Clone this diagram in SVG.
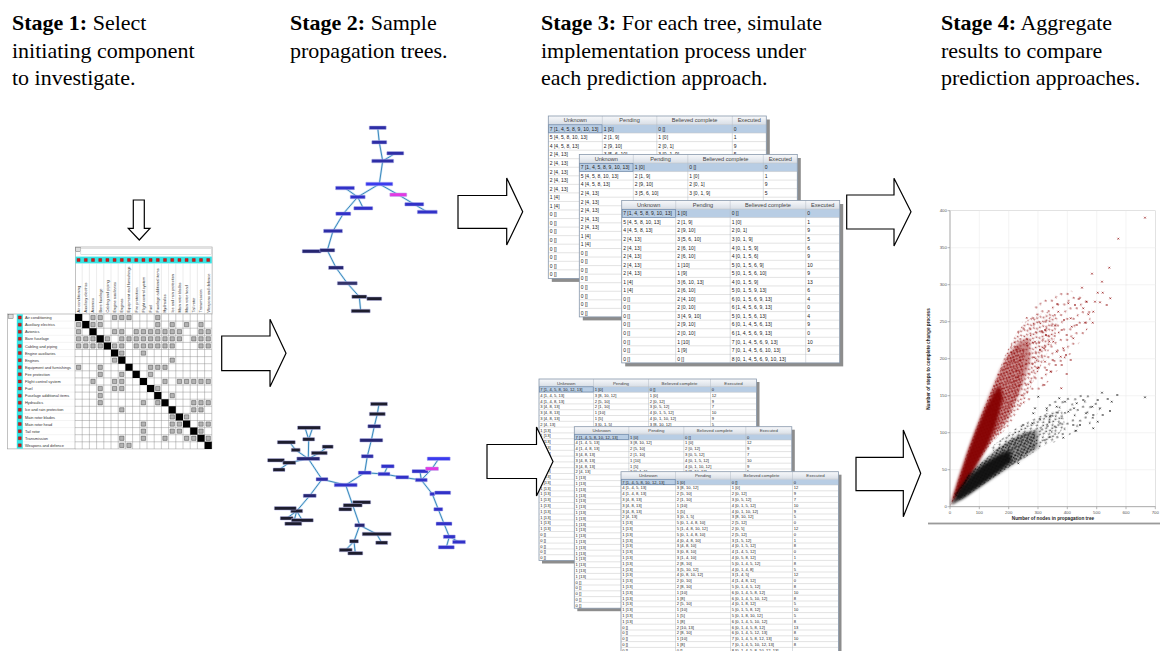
<svg xmlns="http://www.w3.org/2000/svg" width="1163" height="651" viewBox="0 0 1163 651">
<style>
.hd{font-family:"Liberation Serif","Times New Roman",serif;font-size:22px;fill:#000}
.b{font-weight:bold}
.arr{fill:#fff;stroke:#000;stroke-width:1.2;stroke-linejoin:miter}
.lab{font-family:"Liberation Sans",Arial,sans-serif;font-size:3.9px;fill:#333}
.gl{fill:none;stroke:#c6c6c6;stroke-width:.5}
.gl2{fill:none;stroke:#b5bcc6;stroke-width:.5}
.th{font-family:"Liberation Sans",Arial,sans-serif;font-size:5.6px;fill:#444;text-anchor:middle}
.tr{font-family:"Liberation Sans",Arial,sans-serif;font-size:5px;fill:#222}
.th2{font-family:"Liberation Sans",Arial,sans-serif;font-size:4.4px;fill:#444;text-anchor:middle}
.tr2{font-family:"Liberation Sans",Arial,sans-serif;font-size:4.1px;fill:#222}
.edge{fill:none;stroke:#3a88bd;stroke-width:1;stroke-linecap:round}
.edgeg{fill:none;stroke:#a9d2ec;stroke-width:2.2;stroke-opacity:.6;stroke-linecap:round}
.nd{stroke:#b9b9ec;stroke-width:.5}
.nb{fill:#2e2ea6}.bl{fill:#3131c8}.br{fill:#3b3bef}.pk{fill:#e23ae2}.nv{fill:#262670}.dk{fill:#1d1d2e}.md{fill:#34346a}
.tk{font-family:"Liberation Sans",Arial,sans-serif;font-size:4.3px;fill:#555}
.at{font-family:"Liberation Sans",Arial,sans-serif;font-size:4.7px;font-weight:bold;fill:#222;text-anchor:middle}
</style>
<defs>
<filter id="soft" x="-20%" y="-20%" width="140%" height="140%"><feGaussianBlur stdDeviation="1.6"/></filter>
<linearGradient id="hg" x1="0" y1="0" x2="0" y2="1"><stop offset="0" stop-color="#f8f9fb"/><stop offset="1" stop-color="#d8dee6"/></linearGradient>
<pattern id="rd" width="4.2" height="4" patternUnits="userSpaceOnUse" patternTransform="rotate(23)"><path d="M.2 .2l1.6 1.6m0-1.6l-1.6 1.6M2.3 1.9l1.6 1.6m0-1.6l-1.6 1.6" stroke="#8b0000" stroke-width=".6" fill="none"/></pattern>
<pattern id="rm" width="7" height="6.5" patternUnits="userSpaceOnUse" patternTransform="rotate(31)"><path d="M.4 .5l1.6 1.6m0-1.6l-1.6 1.6M4.3 1.4l1.6 1.6m0-1.6l-1.6 1.6M2 4.2l1.6 1.6m0-1.6l-1.6 1.6" stroke="#8b0000" stroke-width=".6" fill="none"/></pattern>
<pattern id="rs" width="13" height="11" patternUnits="userSpaceOnUse" patternTransform="rotate(17)"><path d="M1 1.2l1.6 1.6m0-1.6l-1.6 1.6M8 3.1l1.6 1.6m0-1.6l-1.6 1.6M3.9 7.6l1.6 1.6m0-1.6l-1.6 1.6" stroke="#8b0000" stroke-width=".6" fill="none"/></pattern>
<pattern id="kd" width="4.2" height="4" patternUnits="userSpaceOnUse" patternTransform="rotate(-19)"><path d="M.2 .2l1.6 1.6m0-1.6l-1.6 1.6M2.3 1.9l1.6 1.6m0-1.6l-1.6 1.6" stroke="#000" stroke-width=".6" fill="none"/></pattern>
<pattern id="km" width="7" height="6.5" patternUnits="userSpaceOnUse" patternTransform="rotate(-27)"><path d="M.4 .5l1.6 1.6m0-1.6l-1.6 1.6M4.3 1.4l1.6 1.6m0-1.6l-1.6 1.6M2 4.2l1.6 1.6m0-1.6l-1.6 1.6" stroke="#000" stroke-width=".6" fill="none"/></pattern>
<pattern id="ks" width="13" height="11" patternUnits="userSpaceOnUse" patternTransform="rotate(-13)"><path d="M1 1.2l1.6 1.6m0-1.6l-1.6 1.6M8 3.1l1.6 1.6m0-1.6l-1.6 1.6M3.9 7.6l1.6 1.6m0-1.6l-1.6 1.6" stroke="#000" stroke-width=".6" fill="none"/></pattern>
<marker id="mr" markerUnits="userSpaceOnUse" markerWidth="4" markerHeight="4" refX="2" refY="2" overflow="visible"><path d="M1.1 1.1L2.9 2.9M2.9 1.1L1.1 2.9" stroke="#8b0000" stroke-width=".6" fill="none"/></marker>
<marker id="mk" markerUnits="userSpaceOnUse" markerWidth="4" markerHeight="4" refX="2" refY="2" overflow="visible"><path d="M1.1 1.1L2.9 2.9M2.9 1.1L1.1 2.9" stroke="#000" stroke-width=".6" fill="none"/></marker>

<g id="tblA">
<rect x="3.5" y="3.5" width="218" height="162.4" fill="#8d8d8d"/>
<rect width="218" height="162.4" fill="#fff"/>
<rect width="218" height="8.5" fill="url(#hg)"/>
<rect y="8.5" width="218" height="8.55" fill="#b8cde4"/>
<path class="gl" d="M0 8.5h218m-218 8.55h218m-218 8.55h218m-218 8.55h218m-218 8.55h218m-218 8.55h218m-218 8.55h218m-218 8.55h218m-218 8.55h218m-218 8.55h218m-218 8.55h218m-218 8.55h218m-218 8.55h218m-218 8.55h218m-218 8.55h218m-218 8.55h218m-218 8.55h218m-218 8.55h218"/>
<path class="gl2" d="M54 0v162.4M108.5 0v162.4M184 0v162.4"/>
<rect x=".4" y="8.8" width="53.3" height="8" fill="none" stroke="#5f7fa6" stroke-width=".6"/>
<rect width="218" height="162.4" fill="none" stroke="#8797ab" stroke-width=".8"/>
<text class="th" y="6.4"><tspan x="27">Unknown</tspan><tspan x="81.25">Pending</tspan><tspan x="146.25">Believed complete</tspan><tspan x="201">Executed</tspan></text>
<text class="tr" y="14.8"><tspan x="1.5">7 [1, 4, 5, 8, 9, 10, 13]</tspan><tspan x="1.5" dy="8.55">5 [4, 5, 8, 10, 13]</tspan><tspan x="1.5" dy="8.55">4 [4, 5, 8, 13]</tspan><tspan x="1.5" dy="8.55">2 [4, 13]</tspan><tspan x="1.5" dy="8.55">2 [4, 13]</tspan><tspan x="1.5" dy="8.55">2 [4, 13]</tspan><tspan x="1.5" dy="8.55">2 [4, 13]</tspan><tspan x="1.5" dy="8.55">2 [4, 13]</tspan><tspan x="1.5" dy="8.55">1 [4]</tspan><tspan x="1.5" dy="8.55">1 [4]</tspan><tspan x="1.5" dy="8.55">0 []</tspan><tspan x="1.5" dy="8.55">0 []</tspan><tspan x="1.5" dy="8.55">0 []</tspan><tspan x="1.5" dy="8.55">0 []</tspan><tspan x="1.5" dy="8.55">0 []</tspan><tspan x="1.5" dy="8.55">0 []</tspan><tspan x="1.5" dy="8.55">0 []</tspan><tspan x="1.5" dy="8.55">0 []</tspan></text>
<text class="tr" y="14.8"><tspan x="55.5">1 [0]</tspan><tspan x="55.5" dy="8.55">2 [1, 9]</tspan><tspan x="55.5" dy="8.55">2 [9, 10]</tspan><tspan x="55.5" dy="8.55">3 [5, 6, 10]</tspan><tspan x="55.5" dy="8.55">2 [6, 10]</tspan><tspan x="55.5" dy="8.55">2 [6, 10]</tspan><tspan x="55.5" dy="8.55">1 [10]</tspan><tspan x="55.5" dy="8.55">1 [9]</tspan><tspan x="55.5" dy="8.55">3 [6, 10, 13]</tspan><tspan x="55.5" dy="8.55">2 [6, 10]</tspan><tspan x="55.5" dy="8.55">2 [4, 10]</tspan><tspan x="55.5" dy="8.55">2 [0, 10]</tspan><tspan x="55.5" dy="8.55">3 [4, 9, 10]</tspan><tspan x="55.5" dy="8.55">2 [9, 10]</tspan><tspan x="55.5" dy="8.55">2 [0, 10]</tspan><tspan x="55.5" dy="8.55">1 [10]</tspan><tspan x="55.5" dy="8.55">1 [9]</tspan><tspan x="55.5" dy="8.55">0 []</tspan></text>
<text class="tr" y="14.8"><tspan x="110">0 []</tspan><tspan x="110" dy="8.55">1 [0]</tspan><tspan x="110" dy="8.55">2 [0, 1]</tspan><tspan x="110" dy="8.55">3 [0, 1, 9]</tspan><tspan x="110" dy="8.55">4 [0, 1, 5, 9]</tspan><tspan x="110" dy="8.55">4 [0, 1, 5, 6]</tspan><tspan x="110" dy="8.55">5 [0, 1, 5, 6, 9]</tspan><tspan x="110" dy="8.55">5 [0, 1, 5, 6, 10]</tspan><tspan x="110" dy="8.55">4 [0, 1, 5, 9]</tspan><tspan x="110" dy="8.55">5 [0, 1, 5, 9, 13]</tspan><tspan x="110" dy="8.55">6 [0, 1, 5, 6, 9, 13]</tspan><tspan x="110" dy="8.55">6 [1, 4, 5, 6, 9, 13]</tspan><tspan x="110" dy="8.55">5 [0, 1, 5, 6, 13]</tspan><tspan x="110" dy="8.55">6 [0, 1, 4, 5, 6, 13]</tspan><tspan x="110" dy="8.55">6 [1, 4, 5, 6, 9, 13]</tspan><tspan x="110" dy="8.55">7 [0, 1, 4, 5, 6, 9, 13]</tspan><tspan x="110" dy="8.55">7 [0, 1, 4, 5, 6, 10, 13]</tspan><tspan x="110" dy="8.55">8 [0, 1, 4, 5, 6, 9, 10, 13]</tspan></text>
<text class="tr" y="14.8"><tspan x="185.5">0</tspan><tspan x="185.5" dy="8.55">1</tspan><tspan x="185.5" dy="8.55">9</tspan><tspan x="185.5" dy="8.55">5</tspan><tspan x="185.5" dy="8.55">6</tspan><tspan x="185.5" dy="8.55">9</tspan><tspan x="185.5" dy="8.55">10</tspan><tspan x="185.5" dy="8.55">9</tspan><tspan x="185.5" dy="8.55">13</tspan><tspan x="185.5" dy="8.55">6</tspan><tspan x="185.5" dy="8.55">4</tspan><tspan x="185.5" dy="8.55">0</tspan><tspan x="185.5" dy="8.55">4</tspan><tspan x="185.5" dy="8.55">9</tspan><tspan x="185.5" dy="8.55">0</tspan><tspan x="185.5" dy="8.55">10</tspan><tspan x="185.5" dy="8.55">9</tspan></text>
</g>

<g id="tblB">
<rect x="3" y="3" width="217.5" height="181.5" fill="#8d8d8d"/>
<rect width="217.5" height="181.5" fill="#fff"/>
<rect width="217.5" height="7.5" fill="url(#hg)"/>
<rect y="7.5" width="217.5" height="5.8" fill="#b8cde4"/>
<path class="gl" d="M0 7.5h217.5m-217.5 5.8h217.5m-217.5 5.8h217.5m-217.5 5.8h217.5m-217.5 5.8h217.5m-217.5 5.8h217.5m-217.5 5.8h217.5m-217.5 5.8h217.5m-217.5 5.8h217.5m-217.5 5.8h217.5m-217.5 5.8h217.5m-217.5 5.8h217.5m-217.5 5.8h217.5m-217.5 5.8h217.5m-217.5 5.8h217.5m-217.5 5.8h217.5m-217.5 5.8h217.5m-217.5 5.8h217.5m-217.5 5.8h217.5m-217.5 5.8h217.5m-217.5 5.8h217.5m-217.5 5.8h217.5m-217.5 5.8h217.5m-217.5 5.8h217.5m-217.5 5.8h217.5m-217.5 5.8h217.5m-217.5 5.8h217.5m-217.5 5.8h217.5m-217.5 5.8h217.5m-217.5 5.8h217.5"/>
<path class="gl2" d="M54.5 0v181.5M109.5 0v181.5M171.5 0v181.5"/>
<rect x=".4" y="7.8" width="53.8" height="5.2" fill="none" stroke="#5f7fa6" stroke-width=".6"/>
<rect width="217.5" height="181.5" fill="none" stroke="#8797ab" stroke-width=".8"/>
<text class="th2" y="5.6"><tspan x="27.25">Unknown</tspan><tspan x="82">Pending</tspan><tspan x="140.5">Believed complete</tspan><tspan x="194.5">Executed</tspan></text>
<text class="tr2" y="11.9"><tspan x="1.3">7 [1, 4, 5, 8, 10, 12, 13]</tspan><tspan x="1.3" dy="5.8">4 [1, 4, 5, 13]</tspan><tspan x="1.3" dy="5.8">4 [1, 4, 8, 13]</tspan><tspan x="1.3" dy="5.8">3 [4, 8, 13]</tspan><tspan x="1.3" dy="5.8">3 [4, 8, 13]</tspan><tspan x="1.3" dy="5.8">3 [4, 8, 13]</tspan><tspan x="1.3" dy="5.8">2 [4, 13]</tspan><tspan x="1.3" dy="5.8">1 [13]</tspan><tspan x="1.3" dy="5.8">1 [13]</tspan><tspan x="1.3" dy="5.8">1 [13]</tspan><tspan x="1.3" dy="5.8">1 [13]</tspan><tspan x="1.3" dy="5.8">1 [13]</tspan><tspan x="1.3" dy="5.8">1 [13]</tspan><tspan x="1.3" dy="5.8">1 [13]</tspan><tspan x="1.3" dy="5.8">1 [13]</tspan><tspan x="1.3" dy="5.8">1 [13]</tspan><tspan x="1.3" dy="5.8">1 [13]</tspan><tspan x="1.3" dy="5.8">1 [13]</tspan><tspan x="1.3" dy="5.8">1 [13]</tspan><tspan x="1.3" dy="5.8">1 [13]</tspan><tspan x="1.3" dy="5.8">1 [13]</tspan><tspan x="1.3" dy="5.8">1 [13]</tspan><tspan x="1.3" dy="5.8">1 [13]</tspan><tspan x="1.3" dy="5.8">1 [13]</tspan><tspan x="1.3" dy="5.8">1 [13]</tspan><tspan x="1.3" dy="5.8">0 []</tspan><tspan x="1.3" dy="5.8">0 []</tspan><tspan x="1.3" dy="5.8">0 []</tspan><tspan x="1.3" dy="5.8">0 []</tspan><tspan x="1.3" dy="5.8">0 []</tspan></text>
<text class="tr2" y="11.9"><tspan x="55.8">1 [0]</tspan><tspan x="55.8" dy="5.8">3 [8, 10, 12]</tspan><tspan x="55.8" dy="5.8">2 [5, 10]</tspan><tspan x="55.8" dy="5.8">2 [1, 10]</tspan><tspan x="55.8" dy="5.8">1 [10]</tspan><tspan x="55.8" dy="5.8">1 [5]</tspan><tspan x="55.8" dy="5.8">3 [0, 1, 5]</tspan><tspan x="55.8" dy="5.8">5 [0, 1, 4, 8, 10]</tspan><tspan x="55.8" dy="5.8">5 [1, 4, 8, 10, 12]</tspan><tspan x="55.8" dy="5.8">5 [0, 1, 4, 8, 10]</tspan><tspan x="55.8" dy="5.8">4 [0, 4, 8, 10]</tspan><tspan x="55.8" dy="5.8">3 [4, 8, 10]</tspan><tspan x="55.8" dy="5.8">3 [0, 8, 10]</tspan><tspan x="55.8" dy="5.8">3 [1, 4, 10]</tspan><tspan x="55.8" dy="5.8">2 [8, 10]</tspan><tspan x="55.8" dy="5.8">3 [5, 10, 12]</tspan><tspan x="55.8" dy="5.8">4 [0, 8, 10, 12]</tspan><tspan x="55.8" dy="5.8">2 [0, 10]</tspan><tspan x="55.8" dy="5.8">2 [8, 10]</tspan><tspan x="55.8" dy="5.8">1 [10]</tspan><tspan x="55.8" dy="5.8">1 [8]</tspan><tspan x="55.8" dy="5.8">2 [5, 10]</tspan><tspan x="55.8" dy="5.8">1 [10]</tspan><tspan x="55.8" dy="5.8">1 [5]</tspan><tspan x="55.8" dy="5.8">1 [8]</tspan><tspan x="55.8" dy="5.8">2 [10, 13]</tspan><tspan x="55.8" dy="5.8">2 [8, 10]</tspan><tspan x="55.8" dy="5.8">1 [10]</tspan><tspan x="55.8" dy="5.8">1 [8]</tspan><tspan x="55.8" dy="5.8">0 []</tspan></text>
<text class="tr2" y="11.9"><tspan x="110.8">0 []</tspan><tspan x="110.8" dy="5.8">1 [0]</tspan><tspan x="110.8" dy="5.8">2 [0, 12]</tspan><tspan x="110.8" dy="5.8">3 [0, 5, 12]</tspan><tspan x="110.8" dy="5.8">4 [0, 1, 5, 12]</tspan><tspan x="110.8" dy="5.8">4 [0, 1, 10, 12]</tspan><tspan x="110.8" dy="5.8">3 [8, 10, 12]</tspan><tspan x="110.8" dy="5.8">2 [5, 12]</tspan><tspan x="110.8" dy="5.8">2 [0, 5]</tspan><tspan x="110.8" dy="5.8">2 [5, 12]</tspan><tspan x="110.8" dy="5.8">3 [1, 5, 12]</tspan><tspan x="110.8" dy="5.8">4 [0, 1, 5, 12]</tspan><tspan x="110.8" dy="5.8">4 [1, 4, 5, 12]</tspan><tspan x="110.8" dy="5.8">4 [0, 5, 8, 12]</tspan><tspan x="110.8" dy="5.8">5 [0, 1, 4, 5, 12]</tspan><tspan x="110.8" dy="5.8">4 [0, 1, 4, 8]</tspan><tspan x="110.8" dy="5.8">3 [1, 4, 5]</tspan><tspan x="110.8" dy="5.8">4 [1, 4, 8, 12]</tspan><tspan x="110.8" dy="5.8">5 [0, 1, 4, 5, 12]</tspan><tspan x="110.8" dy="5.8">6 [0, 1, 4, 5, 8, 12]</tspan><tspan x="110.8" dy="5.8">6 [0, 1, 4, 5, 10, 12]</tspan><tspan x="110.8" dy="5.8">4 [0, 1, 8, 12]</tspan><tspan x="110.8" dy="5.8">5 [0, 1, 5, 8, 12]</tspan><tspan x="110.8" dy="5.8">5 [0, 1, 8, 10, 12]</tspan><tspan x="110.8" dy="5.8">6 [0, 1, 4, 5, 10, 12]</tspan><tspan x="110.8" dy="5.8">6 [0, 1, 4, 5, 8, 12]</tspan><tspan x="110.8" dy="5.8">6 [0, 1, 4, 5, 12, 13]</tspan><tspan x="110.8" dy="5.8">7 [0, 1, 4, 5, 8, 12, 13]</tspan><tspan x="110.8" dy="5.8">7 [0, 1, 4, 5, 10, 12, 13]</tspan><tspan x="110.8" dy="5.8">8 [0, 1, 4, 5, 8, 10, 12, 13]</tspan></text>
<text class="tr2" y="11.9"><tspan x="172.8">0</tspan><tspan x="172.8" dy="5.8">12</tspan><tspan x="172.8" dy="5.8">9</tspan><tspan x="172.8" dy="5.8">7</tspan><tspan x="172.8" dy="5.8">10</tspan><tspan x="172.8" dy="5.8">9</tspan><tspan x="172.8" dy="5.8">5</tspan><tspan x="172.8" dy="5.8">0</tspan><tspan x="172.8" dy="5.8">12</tspan><tspan x="172.8" dy="5.8">0</tspan><tspan x="172.8" dy="5.8">1</tspan><tspan x="172.8" dy="5.8">8</tspan><tspan x="172.8" dy="5.8">0</tspan><tspan x="172.8" dy="5.8">1</tspan><tspan x="172.8" dy="5.8">8</tspan><tspan x="172.8" dy="5.8">5</tspan><tspan x="172.8" dy="5.8">12</tspan><tspan x="172.8" dy="5.8">0</tspan><tspan x="172.8" dy="5.8">8</tspan><tspan x="172.8" dy="5.8">10</tspan><tspan x="172.8" dy="5.8">8</tspan><tspan x="172.8" dy="5.8">5</tspan><tspan x="172.8" dy="5.8">10</tspan><tspan x="172.8" dy="5.8">5</tspan><tspan x="172.8" dy="5.8">8</tspan><tspan x="172.8" dy="5.8">13</tspan><tspan x="172.8" dy="5.8">8</tspan><tspan x="172.8" dy="5.8">10</tspan><tspan x="172.8" dy="5.8">8</tspan></text>
</g>
</defs>

<rect width="1163" height="651" fill="#fff"/>

<g id="headers" class="hd">
<text x="12" y="30"><tspan class="b">Stage 1:</tspan> Select</text>
<text x="12" y="57.5">initiating component</text>
<text x="12" y="85">to investigate.</text>
<text x="290" y="30"><tspan class="b">Stage 2:</tspan> Sample</text>
<text x="290" y="57.5">propagation trees.</text>
<text x="541" y="30"><tspan class="b">Stage 3:</tspan> For each tree, simulate</text>
<text x="541" y="57.5">implementation process under</text>
<text x="541" y="85">each prediction approach.</text>
<text x="941" y="30"><tspan class="b">Stage 4:</tspan> Aggregate</text>
<text x="941" y="57.5">results to compare</text>
<text x="941" y="85">prediction approaches.</text>
</g>

<g id="dsm">
<rect x="75.3" y="247" width="136.8" height="67" fill="#fff" stroke="#9a9a9a" stroke-width=".6"/>
<rect x="75.8" y="247.6" width="4.6" height="4" fill="#ddd" stroke="#555" stroke-width=".4"/>
<rect x="80.8" y="248.4" width="130.8" height="6.2" fill="#fff" stroke="#c4c4c4" stroke-width=".5"/>
<rect x="75.5" y="256.6" width="136.3" height="6.8" fill="#38e4e4"/>
<path fill="#e01515" stroke="#7a0000" stroke-width=".3" d="M77.1 258.5h3v3h-3zm7.2 0h3v3h-3zm7.2 0h3v3h-3zm7.2 0h3v3h-3zm7.2 0h3v3h-3zm7.2 0h3v3h-3zm7.2 0h3v3h-3zm7.2 0h3v3h-3zm7.2 0h3v3h-3zm7.2 0h3v3h-3zm7.2 0h3v3h-3zm7.2 0h3v3h-3zm7.2 0h3v3h-3zm7.2 0h3v3h-3zm7.2 0h3v3h-3zm7.2 0h3v3h-3zm7.2 0h3v3h-3zm7.2 0h3v3h-3zm7.2 0h3v3h-3z"/>
<path fill="none" stroke="#d0d0d0" stroke-width=".4" d="M82.2 263.4V314M89.4 263.4V314M96.6 263.4V314M103.8 263.4V314M111 263.4V314M118.2 263.4V314M125.4 263.4V314M132.6 263.4V314M139.8 263.4V314M147 263.4V314M154.2 263.4V314M161.4 263.4V314M168.6 263.4V314M175.8 263.4V314M183 263.4V314M190.2 263.4V314M197.4 263.4V314M204.6 263.4V314"/>
<g class="lab" transform="rotate(-90)">
<text x="-312.5" y="80">Air conditioning</text>
<text x="-312.5" y="87.2">Auxiliary electrics</text>
<text x="-312.5" y="94.4">Avionics</text>
<text x="-312.5" y="101.6">Bare fuselage</text>
<text x="-312.5" y="108.8">Cabling and piping</text>
<text x="-312.5" y="116">Engine auxiliaries</text>
<text x="-312.5" y="123.2">Engines</text>
<text x="-312.5" y="130.4">Equipment and furnishings</text>
<text x="-312.5" y="137.6">Fire protection</text>
<text x="-312.5" y="144.8">Flight control system</text>
<text x="-312.5" y="152">Fuel</text>
<text x="-312.5" y="159.2">Fuselage additional items</text>
<text x="-312.5" y="166.4">Hydraulics</text>
<text x="-312.5" y="173.6">Ice and rain protection</text>
<text x="-312.5" y="180.8">Main rotor blades</text>
<text x="-312.5" y="188">Main rotor head</text>
<text x="-312.5" y="195.2">Tail rotor</text>
<text x="-312.5" y="202.4">Transmission</text>
<text x="-312.5" y="209.6">Weapons and defence</text>
</g>
<rect x="7.5" y="314" width="67.8" height="134.9" fill="#fff" stroke="#9a9a9a" stroke-width=".6"/>
<rect x="8.5" y="314.6" width="4.6" height="4" fill="#ddd" stroke="#555" stroke-width=".4"/>
<rect x="16.8" y="314.3" width="6" height="134.4" fill="#38e4e4"/>
<path fill="#e01515" stroke="#7a0000" stroke-width=".3" d="M18.3 316.05h3v3h-3zm0 7.1h3v3h-3zm0 7.1h3v3h-3zm0 7.1h3v3h-3zm0 7.1h3v3h-3zm0 7.1h3v3h-3zm0 7.1h3v3h-3zm0 7.1h3v3h-3zm0 7.1h3v3h-3zm0 7.1h3v3h-3zm0 7.1h3v3h-3zm0 7.1h3v3h-3zm0 7.1h3v3h-3zm0 7.1h3v3h-3zm0 7.1h3v3h-3zm0 7.1h3v3h-3zm0 7.1h3v3h-3zm0 7.1h3v3h-3zm0 7.1h3v3h-3z"/>
<path fill="none" stroke="#e2e2e2" stroke-width=".4" d="M23 321.1H75M23 328.2H75M23 335.3H75M23 342.4H75M23 349.5H75M23 356.6H75M23 363.7H75M23 370.8H75M23 377.9H75M23 385H75M23 392.1H75M23 399.2H75M23 406.3H75M23 413.4H75M23 420.5H75M23 427.6H75M23 434.7H75M23 441.8H75"/>
<text class="lab" y="319.1"><tspan x="25">Air conditioning</tspan><tspan x="25" dy="7.1">Auxiliary electrics</tspan><tspan x="25" dy="7.1">Avionics</tspan><tspan x="25" dy="7.1">Bare fuselage</tspan><tspan x="25" dy="7.1">Cabling and piping</tspan><tspan x="25" dy="7.1">Engine auxiliaries</tspan><tspan x="25" dy="7.1">Engines</tspan><tspan x="25" dy="7.1">Equipment and furnishings</tspan><tspan x="25" dy="7.1">Fire protection</tspan><tspan x="25" dy="7.1">Flight control system</tspan><tspan x="25" dy="7.1">Fuel</tspan><tspan x="25" dy="7.1">Fuselage additional items</tspan><tspan x="25" dy="7.1">Hydraulics</tspan><tspan x="25" dy="7.1">Ice and rain protection</tspan><tspan x="25" dy="7.1">Main rotor blades</tspan><tspan x="25" dy="7.1">Main rotor head</tspan><tspan x="25" dy="7.1">Tail rotor</tspan><tspan x="25" dy="7.1">Transmission</tspan><tspan x="25" dy="7.1">Weapons and defence</tspan></text>
<g transform="translate(75 314) scale(7.2 7.1)">
<rect width="19" height="19" fill="#fff"/>
<path fill="none" stroke="#8a8a8a" stroke-width=".45" vector-effect="non-scaling-stroke" d="M0 0V19M1 0V19M2 0V19M3 0V19M4 0V19M5 0V19M6 0V19M7 0V19M8 0V19M9 0V19M10 0V19M11 0V19M12 0V19M13 0V19M14 0V19M15 0V19M16 0V19M17 0V19M18 0V19M19 0V19M0 0H19M0 1H19M0 2H19M0 3H19M0 4H19M0 5H19M0 6H19M0 7H19M0 8H19M0 9H19M0 10H19M0 11H19M0 12H19M0 13H19M0 14H19M0 15H19M0 16H19M0 17H19M0 18H19M0 19H19"/>
<path fill="#000" d="M0 0h1v1h-1zM1 1h1v1h-1zM2 2h1v1h-1zM3 3h1v1h-1zM4 4h1v1h-1zM5 5h1v1h-1zM6 6h1v1h-1zM7 7h1v1h-1zM8 8h1v1h-1zM9 9h1v1h-1zM10 10h1v1h-1zM11 11h1v1h-1zM12 12h1v1h-1zM13 13h1v1h-1zM14 14h1v1h-1zM15 15h1v1h-1zM16 16h1v1h-1zM17 17h1v1h-1zM18 18h1v1h-1z"/>
<path fill="#b3b3b3" stroke="#4a4a4a" stroke-width=".5" vector-effect="non-scaling-stroke" d="M2.2 .2h.6v.6h-.6zM3.2 .2h.6v.6h-.6zM5.2 .2h.6v.6h-.6zM6.2 .2h.6v.6h-.6zM7.2 .2h.6v.6h-.6zM11.2 .2h.6v.6h-.6z
M0.2 1.2h.6v.6h-.6zM2.2 1.2h.6v.6h-.6zM3.2 1.2h.6v.6h-.6zM11.2 1.2h.6v.6h-.6zM13.2 1.2h.6v.6h-.6zM15.2 1.2h.6v.6h-.6zM17.2 1.2h.6v.6h-.6z
M0.2 2.2h.6v.6h-.6zM5.2 2.2h.6v.6h-.6zM6.2 2.2h.6v.6h-.6zM8.2 2.2h.6v.6h-.6zM9.2 2.2h.6v.6h-.6zM10.2 2.2h.6v.6h-.6zM11.2 2.2h.6v.6h-.6zM12.2 2.2h.6v.6h-.6zM13.2 2.2h.6v.6h-.6zM14.2 2.2h.6v.6h-.6zM17.2 2.2h.6v.6h-.6zM18.2 2.2h.6v.6h-.6z
M0.2 3.2h.6v.6h-.6zM1.2 3.2h.6v.6h-.6zM2.2 3.2h.6v.6h-.6zM4.2 3.2h.6v.6h-.6zM6.2 3.2h.6v.6h-.6zM7.2 3.2h.6v.6h-.6zM8.2 3.2h.6v.6h-.6zM9.2 3.2h.6v.6h-.6zM10.2 3.2h.6v.6h-.6zM11.2 3.2h.6v.6h-.6zM12.2 3.2h.6v.6h-.6zM13.2 3.2h.6v.6h-.6zM14.2 3.2h.6v.6h-.6zM16.2 3.2h.6v.6h-.6zM17.2 3.2h.6v.6h-.6zM18.2 3.2h.6v.6h-.6z
M0.2 4.2h.6v.6h-.6zM1.2 4.2h.6v.6h-.6zM2.2 4.2h.6v.6h-.6zM3.2 4.2h.6v.6h-.6zM5.2 4.2h.6v.6h-.6zM6.2 4.2h.6v.6h-.6zM8.2 4.2h.6v.6h-.6zM9.2 4.2h.6v.6h-.6zM10.2 4.2h.6v.6h-.6zM11.2 4.2h.6v.6h-.6zM12.2 4.2h.6v.6h-.6zM13.2 4.2h.6v.6h-.6zM17.2 4.2h.6v.6h-.6zM18.2 4.2h.6v.6h-.6z
M6.2 5.2h.6v.6h-.6zM9.2 5.2h.6v.6h-.6z
M5.2 6.2h.6v.6h-.6zM13.2 6.2h.6v.6h-.6z
M0.2 7.2h.6v.6h-.6zM3.2 7.2h.6v.6h-.6zM10.2 7.2h.6v.6h-.6zM11.2 7.2h.6v.6h-.6zM12.2 7.2h.6v.6h-.6z
M3.2 8.2h.6v.6h-.6zM6.2 8.2h.6v.6h-.6zM10.2 8.2h.6v.6h-.6z
M2.2 9.2h.6v.6h-.6zM5.2 9.2h.6v.6h-.6zM6.2 9.2h.6v.6h-.6zM12.2 9.2h.6v.6h-.6zM14.2 9.2h.6v.6h-.6zM15.2 9.2h.6v.6h-.6zM16.2 9.2h.6v.6h-.6zM17.2 9.2h.6v.6h-.6zM18.2 9.2h.6v.6h-.6z
M3.2 10.2h.6v.6h-.6zM5.2 10.2h.6v.6h-.6zM6.2 10.2h.6v.6h-.6zM11.2 10.2h.6v.6h-.6z
M3.2 11.2h.6v.6h-.6zM13.2 11.2h.6v.6h-.6z
M3.2 12.2h.6v.6h-.6zM9.2 12.2h.6v.6h-.6zM11.2 12.2h.6v.6h-.6zM16.2 12.2h.6v.6h-.6zM17.2 12.2h.6v.6h-.6zM18.2 12.2h.6v.6h-.6z
M6.2 13.2h.6v.6h-.6zM16.2 13.2h.6v.6h-.6zM17.2 13.2h.6v.6h-.6z
M13.2 14.2h.6v.6h-.6zM15.2 14.2h.6v.6h-.6z
M9.2 15.2h.6v.6h-.6zM13.2 15.2h.6v.6h-.6zM14.2 15.2h.6v.6h-.6zM17.2 15.2h.6v.6h-.6zM18.2 15.2h.6v.6h-.6z
M9.2 16.2h.6v.6h-.6zM13.2 16.2h.6v.6h-.6zM14.2 16.2h.6v.6h-.6zM17.2 16.2h.6v.6h-.6z
M6.2 17.2h.6v.6h-.6zM9.2 17.2h.6v.6h-.6zM12.2 17.2h.6v.6h-.6zM15.2 17.2h.6v.6h-.6zM16.2 17.2h.6v.6h-.6zM18.2 17.2h.6v.6h-.6z
M6.2 18.2h.6v.6h-.6zM7.2 18.2h.6v.6h-.6z"/>
</g>
</g>

<g id="tree-top">
<path class="edgeg" d="M377.7 127.7L379.3 142.3L382.7 161M395.3 153.3L382.7 161L379.3 184L398.3 194.7L414.3 204.3L427.3 212M379.3 184L357.7 197M345 188L357.7 197L363.3 208.3M357.7 197L343.3 213.7L333 231L327.3 250.3M311.7 251.3L327.3 250.3L336 267.7L347.3 283.3L359.3 296.7L360.7 311M359.3 296.7L374.3 298.7"/>
<path class="edge" d="M377.7 127.7L379.3 142.3L382.7 161M395.3 153.3L382.7 161L379.3 184L398.3 194.7L414.3 204.3L427.3 212M379.3 184L357.7 197M345 188L357.7 197L363.3 208.3M357.7 197L343.3 213.7L333 231L327.3 250.3M311.7 251.3L327.3 250.3L336 267.7L347.3 283.3L359.3 296.7L360.7 311M359.3 296.7L374.3 298.7"/>
<g class="nd">
<rect class="nb" x="369.2" y="125.9" width="17" height="3.6" rx=".6"/>
<rect class="nb" x="371.8" y="140.5" width="15" height="3.6" rx=".6"/>
<rect class="nb" x="386.8" y="151.5" width="17" height="3.6" rx=".6"/>
<rect class="nb" x="371.7" y="159.2" width="22" height="3.6" rx=".6"/>
<rect class="br" x="365.8" y="182.2" width="27" height="3.6" rx=".6"/>
<rect class="pk" x="389.8" y="192.9" width="17" height="3.6" rx=".6"/>
<rect class="bl" x="404.8" y="202.5" width="19" height="3.6" rx=".6"/>
<rect class="bl" x="417.3" y="210.2" width="20" height="3.6" rx=".6"/>
<rect class="bl" x="335.5" y="186.2" width="19" height="3.6" rx=".6"/>
<rect class="bl" x="350.2" y="195.2" width="15" height="3.6" rx=".6"/>
<rect class="bl" x="353.8" y="206.5" width="19" height="3.6" rx=".6"/>
<rect class="bl" x="335.8" y="211.9" width="15" height="3.6" rx=".6"/>
<rect class="nb" x="323.5" y="229.2" width="19" height="3.6" rx=".6"/>
<rect class="nv" x="302.2" y="249.5" width="19" height="3.6" rx=".6"/>
<rect class="nv" x="319.8" y="248.5" width="15" height="3.6" rx=".6"/>
<rect class="nv" x="328.5" y="265.9" width="15" height="3.6" rx=".6"/>
<rect class="md" x="337.3" y="281.5" width="20" height="3.6" rx=".6"/>
<rect class="dk" x="351.8" y="294.9" width="15" height="3.6" rx=".6"/>
<rect class="dk" x="366.8" y="296.9" width="15" height="3.6" rx=".6"/>
<rect class="dk" x="351.2" y="309.2" width="19" height="3.6" rx=".6"/>
</g>
</g>

<g id="tree-bottom">
<path class="edgeg" d="M379 404L377.3 414L374.3 426.3L371.3 440.3L367.3 456.3L364.7 472.7L345.7 485L322 479.3M364.7 472.7L384 474L387.7 466.3M384 474L402.3 477.3L421.3 480L420 471.3M421.3 480L432 468.7L438.7 458.7M421.3 480L432.3 494L442.7 492.7M432.3 494L438.3 509.3L444 523.7L449.3 536.7L459 542M449.3 536.7L446.3 547.3M322 479.3L308.3 458.7M322 479.3L309.7 495.7M308.3 458.7L308.7 439.3L305 427.7M308.7 439.3L312.7 427.7M308.3 458.7L319.3 453L327.7 446.7M308.3 458.7L295.7 450L291 444M308.3 458.7L289.3 462.7L279 469.7M276 460.3L289.3 462.7M309.7 495.7L296.7 511L285.3 508.3M296.7 511L286.7 518.3M296.7 511L302.3 520.3M296.7 511L293.3 523.7M345.7 485L359.7 525.3L376.7 534L381.7 542.7M359.7 525.3L354 541.3L345.7 550M354 541.3L355.3 553.3"/>
<path class="edge" d="M379 404L377.3 414L374.3 426.3L371.3 440.3L367.3 456.3L364.7 472.7L345.7 485L322 479.3M364.7 472.7L384 474L387.7 466.3M384 474L402.3 477.3L421.3 480L420 471.3M421.3 480L432 468.7L438.7 458.7M421.3 480L432.3 494L442.7 492.7M432.3 494L438.3 509.3L444 523.7L449.3 536.7L459 542M449.3 536.7L446.3 547.3M322 479.3L308.3 458.7M322 479.3L309.7 495.7M308.3 458.7L308.7 439.3L305 427.7M308.7 439.3L312.7 427.7M308.3 458.7L319.3 453L327.7 446.7M308.3 458.7L295.7 450L291 444M308.3 458.7L289.3 462.7L279 469.7M276 460.3L289.3 462.7M309.7 495.7L296.7 511L285.3 508.3M296.7 511L286.7 518.3M296.7 511L302.3 520.3M296.7 511L293.3 523.7M345.7 485L359.7 525.3L376.7 534L381.7 542.7M359.7 525.3L354 541.3L345.7 550M354 541.3L355.3 553.3"/>
<g class="nd">
<rect class="dk" x="370.5" y="402.2" width="17" height="3.6" rx=".6"/>
<rect class="dk" x="369.3" y="412.2" width="16" height="3.6" rx=".6"/>
<rect class="nv" x="367.8" y="424.5" width="13" height="3.6" rx=".6"/>
<rect class="nv" x="359.8" y="438.5" width="23" height="3.6" rx=".6"/>
<rect class="nb" x="361.3" y="454.5" width="12" height="3.6" rx=".6"/>
<rect class="bl" x="358.2" y="470.9" width="13" height="3.6" rx=".6"/>
<rect class="bl" x="334.2" y="483.2" width="23" height="3.6" rx=".6"/>
<rect class="nb" x="316" y="477.5" width="12" height="3.6" rx=".6"/>
<rect class="bl" x="378" y="472.2" width="12" height="3.6" rx=".6"/>
<rect class="bl" x="381.2" y="464.5" width="13" height="3.6" rx=".6"/>
<rect class="bl" x="395.8" y="475.5" width="13" height="3.6" rx=".6"/>
<rect class="bl" x="415.3" y="478.2" width="12" height="3.6" rx=".6"/>
<rect class="bl" x="412" y="469.5" width="16" height="3.6" rx=".6"/>
<rect class="pk" x="425.5" y="466.9" width="13" height="3.6" rx=".6"/>
<rect class="br" x="427.2" y="456.9" width="23" height="3.6" rx=".6"/>
<rect class="bl" x="429.8" y="492.2" width="5" height="3.6" rx=".6"/>
<rect class="bl" x="434.7" y="490.9" width="16" height="3.6" rx=".6"/>
<rect class="bl" x="433.8" y="507.5" width="9" height="3.6" rx=".6"/>
<rect class="bl" x="436" y="521.9" width="16" height="3.6" rx=".6"/>
<rect class="bl" x="443.3" y="534.9" width="12" height="3.6" rx=".6"/>
<rect class="bl" x="452.5" y="540.2" width="13" height="3.6" rx=".6"/>
<rect class="bl" x="438.3" y="545.5" width="16" height="3.6" rx=".6"/>
<rect class="nv" x="296.8" y="456.9" width="23" height="3.6" rx=".6"/>
<rect class="dk" x="302.7" y="437.5" width="12" height="3.6" rx=".6"/>
<rect class="dk" x="297.5" y="425.9" width="23" height="3.6" rx=".6"/>
<rect class="dk" x="311.3" y="451.2" width="16" height="3.6" rx=".6"/>
<rect class="dk" x="322.2" y="444.9" width="11" height="3.6" rx=".6"/>
<rect class="dk" x="291.2" y="448.2" width="9" height="3.6" rx=".6"/>
<rect class="dk" x="277.3" y="440.5" width="18" height="3.6" rx=".6"/>
<rect class="dk" x="267.5" y="458.5" width="17" height="3.6" rx=".6"/>
<rect class="dk" x="282.8" y="460.9" width="13" height="3.6" rx=".6"/>
<rect class="dk" x="273" y="467.9" width="12" height="3.6" rx=".6"/>
<rect class="nv" x="303.2" y="493.9" width="13" height="3.6" rx=".6"/>
<rect class="dk" x="290.7" y="509.2" width="12" height="3.6" rx=".6"/>
<rect class="dk" x="274.3" y="506.5" width="22" height="3.6" rx=".6"/>
<rect class="dk" x="280.2" y="516.5" width="13" height="3.6" rx=".6"/>
<rect class="dk" x="291.3" y="518.5" width="22" height="3.6" rx=".6"/>
<rect class="dk" x="284.8" y="521.9" width="17" height="3.6" rx=".6"/>
<rect class="dk" x="352.7" y="500.5" width="18" height="3.6" rx=".6"/>
<rect class="dk" x="343.2" y="503.5" width="19" height="3.6" rx=".6"/>
<rect class="dk" x="338.8" y="507.5" width="13" height="3.6" rx=".6"/>
<rect class="nv" x="354.7" y="523.5" width="10" height="3.6" rx=".6"/>
<rect class="dk" x="362.2" y="532.2" width="29" height="3.6" rx=".6"/>
<rect class="dk" x="375.7" y="540.9" width="12" height="3.6" rx=".6"/>
<rect class="dk" x="349.5" y="539.5" width="9" height="3.6" rx=".6"/>
<rect class="dk" x="339.2" y="548.2" width="13" height="3.6" rx=".6"/>
<rect class="dk" x="347.8" y="551.5" width="15" height="3.6" rx=".6"/>
</g>
</g>

<g id="tables-top">
<use href="#tblA" x="548.3" y="116"/>
<use href="#tblA" x="579.3" y="154.5"/>
<use href="#tblA" x="621.7" y="200.5"/>
</g>

<g id="tables-bottom">
<use href="#tblB" x="539" y="379"/>
<use href="#tblB" x="574.3" y="426.7"/>
<use href="#tblB" x="621" y="471.7"/>
</g>

<g id="scatter">
<rect x="950" y="210.7" width="205.5" height="296" fill="#fff" stroke="#cfcfcf" stroke-width=".6"/>
<path fill="none" stroke="#ececec" stroke-width=".6" d="M979.3 210.7V506.7M1008.7 210.7V506.7M1038 210.7V506.7M1067.3 210.7V506.7M1096.7 210.7V506.7M1126 210.7V506.7M950 469.7H1155.5M950 432.7H1155.5M950 395.7H1155.5M950 358.7H1155.5M950 321.7H1155.5M950 284.7H1155.5M950 247.7H1155.5"/>
<polygon fill="url(#rs)" points="1008,352 1020,325 1035,305 1050,295 1065,290 1080,292 1092,305 1090,325 1078,345 1062,365 1048,382 1032,398 1018,412"/>
<polygon fill="url(#rm)" points="985,410 995,380 1005,355 1015,335 1025,322 1035,315 1048,312 1058,318 1055,338 1045,358 1035,378 1025,400 1010,425 995,440"/>
<polygon fill="#8b0000" fill-opacity=".45" filter="url(#soft)" points="952,500 960,475 970,445 980,418 990,393 1000,370 1008,355 1018,342 1030,338 1030,362 1020,392 1008,418 992,440 975,462 960,488"/>
<polygon fill="url(#rd)" points="950,506.7 960,475 970,445 980,418 990,393 1000,370 1008,355 1016,345 1024,350 1022,380 1015,405 1005,425 990,445 975,465 960,490"/>
<polygon fill="#850505" fill-opacity=".95" filter="url(#soft)" points="951,504 958,481 967,454 976,430 985,409 993,394 1000,385 1003,398 996,425 988,445 976,467 964,489"/>
<polygon fill="url(#ks)" points="1035,412 1050,402 1065,396 1080,393 1095,395 1100,410 1090,425 1075,432 1060,440 1045,446"/>
<polygon fill="url(#km)" points="990,448 1005,436 1020,425 1035,418 1050,412 1062,410 1065,425 1055,440 1040,448 1025,458 1010,466"/>
<polygon fill="#000" fill-opacity=".42" filter="url(#soft)" points="955,495 968,475 982,462 996,450 1010,440 1025,432 1038,430 1038,448 1020,460 1005,470 990,480 975,490 960,500"/>
<polygon fill="url(#kd)" points="955,495 968,475 982,462 996,450 1010,440 1025,432 1035,432 1035,448 1020,460 1005,470 990,480 975,490 960,500"/>
<polygon fill="#0a0a0a" fill-opacity=".95" filter="url(#soft)" points="951,505 960,489 972,474 985,463 998,455 1010,450 1012,461 999,472 983,484 965,497"/>
<polyline fill="none" stroke="none" marker-start="url(#mr)" marker-mid="url(#mr)" marker-end="url(#mr)" points="1145,217.7 1118.3,238.7 1109.3,267.7 1092,273.7 1102,281.7 1082,287.7 1097.7,292.7 1102.7,292.7 1110.3,298.3 1095,301.7 1106.7,305 1100,302.3 1086.7,301.7 1078.7,299 1075,305 1057.3,304 1058.3,311.7 1068.3,303.3 1083.3,308.3 1093.3,311.7 1088.3,314.3 1092.7,322.7 1085,322.7 1070.7,318.3 1071.7,326.7 1064,320 1055,325.7 1061.7,330 1076.7,325 1066.7,335 1073.3,338.3 1053.3,341.7 1056.7,351.7 1049.3,341.7 1046,335 1044,348.3 1063.3,348.3 1060.7,356.7 1066,355 1061.7,365 1055.7,365 1066.7,374 1070.7,360 1052.7,360 1045,361.7 1050.7,371.7 1037.3,368.3 1046.7,370 1044.3,385 1061.3,388.3 1034,357.3 1026.7,343.3 1035,341.7 1040,350 1041.7,331 1045,330"/>
<polyline fill="none" stroke="none" marker-start="url(#mk)" marker-mid="url(#mk)" marker-end="url(#mk)" points="1102,392.7 1117.3,395 1145,397.3 1107.7,399 1097.7,400 1111.7,401.7 1100,408.3 1102.7,415 1110,411 1093.3,415 1086,413.3 1097.7,421.7 1092.3,406.7 1083.3,400 1076.7,403.3 1065,401.7 1074,408.3 1068.3,411.7 1056.7,406.7 1059.3,398.3 1046.7,408.3 1050,416.7 1038.3,396.7 1035,408.3 1033.3,413.3 1093.3,428.3 1073.3,425 1080,425 1063.3,437.7 1076,430.7 1032.3,423.3 1023.3,425 1018.3,463.3"/>
<path fill="none" stroke="#8a8a8a" stroke-width=".6" d="M950 210.7V506.7H1155.5M947.5 506.7H950M947.5 469.7H950M947.5 432.7H950M947.5 395.7H950M947.5 358.7H950M947.5 321.7H950M947.5 284.7H950M947.5 247.7H950M947.5 210.7H950M950 506.7v2.5M979.3 506.7v2.5M1008.7 506.7v2.5M1038 506.7v2.5M1067.3 506.7v2.5M1096.7 506.7v2.5M1126 506.7v2.5M1155.3 506.7v2.5"/>
<g class="tk" text-anchor="end">
<text x="946.8" y="508.2">0</text><text x="946.8" y="471.2">50</text><text x="946.8" y="434.2">100</text><text x="946.8" y="397.2">150</text><text x="946.8" y="360.2">200</text><text x="946.8" y="323.2">250</text><text x="946.8" y="286.2">300</text><text x="946.8" y="249.2">350</text><text x="946.8" y="212.2">400</text>
</g>
<g class="tk" text-anchor="middle">
<text x="950" y="513.6">0</text><text x="979.3" y="513.6">100</text><text x="1008.7" y="513.6">200</text><text x="1038" y="513.6">300</text><text x="1067.3" y="513.6">400</text><text x="1096.7" y="513.6">500</text><text x="1126" y="513.6">600</text><text x="1155.3" y="513.6">700</text>
</g>
<text class="at" x="1053" y="520.3">Number of nodes in propagation tree</text>
<text class="at" transform="rotate(-90)" x="-359" y="929.6">Number of steps to complete change process</text>
<rect x="928" y="522.6" width="232" height="1.8" fill="#9a9a9a"/>
</g>

<g id="arrows">
<polygon class="arr" points="133.3,200 144.3,200 144.3,228.3 150,228.3 139.3,240 128.3,228.3 133.3,228.3"/>
<polygon class="arr" points="221.7,336 270,336 270,319.3 286,353.3 270,386.7 270,370.7 221.7,370.7"/>
<polygon class="arr" points="458,195.5 506.7,195.5 506.7,178 522.7,211.7 506.7,245 506.7,228.3 458,228.3"/>
<polygon class="arr" points="487,444.5 536.5,444.5 536.5,427 553,461.5 536.5,496 536.5,478.5 487,478.5"/>
<polygon class="arr" points="846.7,195 894,195 894,178.3 911,211.7 894,246 894,229 846.7,229"/>
<polygon class="arr" points="856,457.3 903.3,457.3 903.3,430 920.7,473.3 903.3,516.7 903.3,490.7 856,490.7"/>
</g>
</svg>
